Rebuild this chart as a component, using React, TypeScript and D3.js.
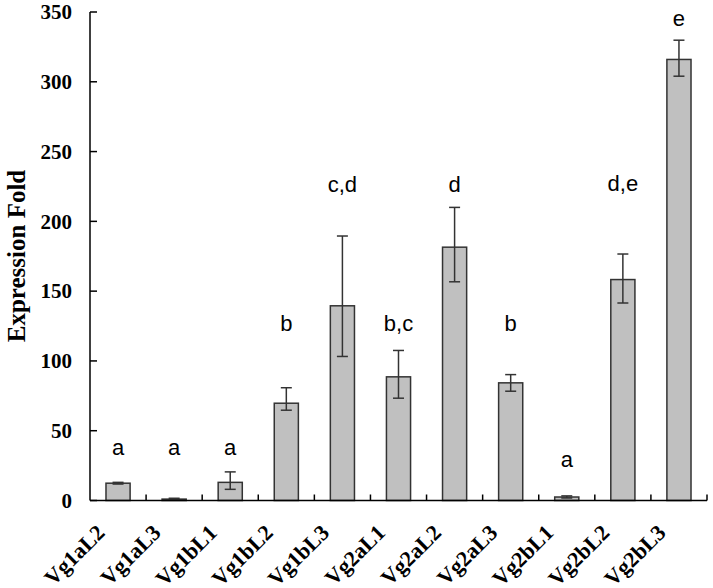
import React from "react";
import * as d3 from "d3";

const categories = ["Vg1aL2", "Vg1aL3", "Vg1bL1", "Vg1bL2", "Vg1bL3", "Vg2aL1", "Vg2aL2", "Vg2aL3", "Vg2bL1", "Vg2bL2", "Vg2bL3"];
const values = [12.4, 1.0, 13, 69.7, 139.5, 88.6, 181.5, 84.3, 2.5, 158.3, 316];
const errHigh = [13.0, 1.6, 20.5, 80.8, 189.5, 107.5, 210, 90.2, 3.3, 176.6, 329.8];
const errLow = [11.8, 0.5, 8.0, 64.7, 103.2, 73.3, 156.7, 78.3, 1.8, 141.5, 304];
const letters = ["a", "a", "a", "b", "c,d", "b,c", "d", "b", "a", "d,e", "e"];
const letterLevels = [32.6, 32.6, 32.6, 121.8, 220.8, 121.8, 221, 121.8, 24.2, 221.5, 340];
const yTicks = [0, 50, 100, 150, 200, 250, 300, 350];

const W = 713, H = 588;
const left = 90, right = 707, top = 12, bottom = 500.5;

export default function App() {
  const x = d3.scaleBand<string>().domain(categories).range([left, right]).paddingInner(0).paddingOuter(0);
  const y = d3.scaleLinear().domain([0, 350]).range([bottom, top]);
  const bw = x.bandwidth();
  const barW = bw * 0.43;
  const serif = "'Liberation Serif', 'Times New Roman', serif";
  const sans = "'Liberation Sans', Arial, sans-serif";
  return (
    <svg width={W} height={H} style={{ position: "absolute", left: 0, top: 0, background: "#fff" }}>
      {categories.map((c, i) => {
        const cx = (x(c) as number) + bw / 2;
        return (
          <g key={c}>
            <rect x={cx - barW / 2} y={y(values[i])} width={barW} height={bottom - y(values[i])} fill="#c0c0c0" stroke="#333" strokeWidth={1.5} />
            <line x1={cx} x2={cx} y1={y(errHigh[i])} y2={y(errLow[i])} stroke="#333" strokeWidth={1.5} />
            <line x1={cx - 5.5} x2={cx + 5.5} y1={y(errHigh[i])} y2={y(errHigh[i])} stroke="#333" strokeWidth={1.5} />
            <line x1={cx - 5.5} x2={cx + 5.5} y1={y(errLow[i])} y2={y(errLow[i])} stroke="#333" strokeWidth={1.5} />
            <text x={cx} y={y(letterLevels[i])} textAnchor="middle" fontFamily={sans} fontSize={22} fill="#000">{letters[i]}</text>
          </g>
        );
      })}
      <line x1={left} x2={left} y1={top} y2={bottom} stroke="#000" strokeWidth={1.5} />
      {yTicks.map((t) => (
        <g key={t}>
          <line x1={left} x2={left + 7} y1={y(t)} y2={y(t)} stroke="#000" strokeWidth={1.5} />
          <text x={72} y={y(t)} dy="0.35em" textAnchor="end" fontFamily={serif} fontWeight="bold" fontSize={21} fill="#000">{t}</text>
        </g>
      ))}
      <line x1={left} x2={right} y1={bottom} y2={bottom} stroke="#000" strokeWidth={1.5} />
      {categories.map((c) => {
        const xe = (x(c) as number) + bw;
        return <line key={"t" + c} x1={xe} x2={xe} y1={bottom} y2={bottom - 6} stroke="#000" strokeWidth={1.5} />;
      })}
      {categories.map((c) => {
        const cx = (x(c) as number) + bw / 2;
        const ax = cx - 12, ay = 534;
        return (
          <text key={"l" + c} x={ax} y={ay} textAnchor="end" transform={`rotate(-45 ${ax} ${ay})`} fontFamily={serif} fontWeight="bold" fontSize={22} fill="#000">{c}</text>
        );
      })}
      <text transform={`translate(25 256) rotate(-90)`} textAnchor="middle" fontFamily={serif} fontWeight="bold" fontSize={25} fill="#000">Expression Fold</text>
    </svg>
  );
}
